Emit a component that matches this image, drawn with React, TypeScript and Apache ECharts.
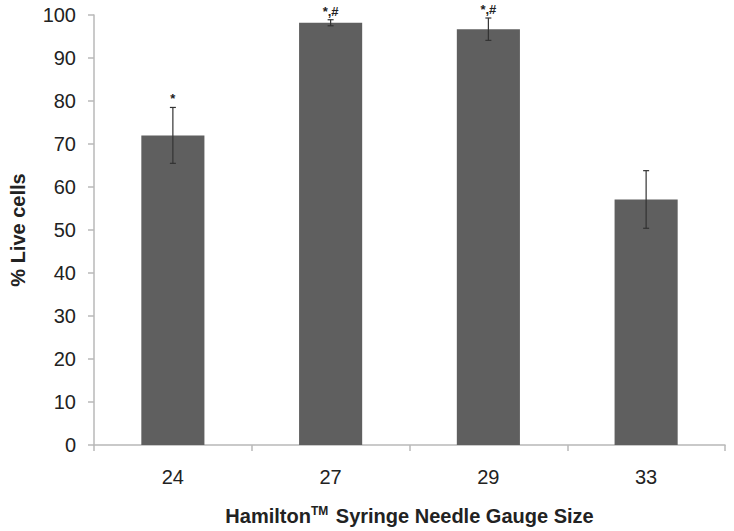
import React, { useEffect, useRef } from "react";
import * as echarts from "echarts";

const categories = ["24", "27", "29", "33"];
const liveCells = [72.0, 98.2, 96.7, 57.1];
const errors = [6.5, 0.7, 2.6, 6.7];
const annotations = ["*", "*,#", "*,#", ""];

export default function App() {
  const ref = useRef<HTMLDivElement>(null);
  useEffect(() => {
    if (!ref.current) return;
    const chart = echarts.init(ref.current, undefined, { renderer: "svg" });
    const font = "Liberation Sans, Arial, sans-serif";
    chart.setOption({
      animation: false,
      backgroundColor: "#ffffff",
      grid: { left: 90, right: 9, top: 15, bottom: 81, containLabel: false },
      xAxis: {
        type: "category",
        data: categories,
        axisLine: { lineStyle: { color: "#b8b8b8", width: 1.5 } },
        axisTick: { show: true, length: 6, lineStyle: { color: "#b8b8b8", width: 1.5 } },
        axisLabel: { color: "#222", fontSize: 20, fontFamily: font, margin: 22 },
        name: "{b|Hamilton}{sup|TM}{b| Syringe Needle Gauge Size}",
        nameLocation: "middle",
        nameGap: 60,
        nameTextStyle: {
          rich: {
            b: { fontSize: 20, fontWeight: "bold", color: "#222", fontFamily: font },
            sup: { fontSize: 12, fontWeight: "bold", color: "#222", fontFamily: font, verticalAlign: "top", padding: [0, 2, 10, 0] },
          },
        },
      },
      yAxis: {
        type: "value",
        min: 0,
        max: 100,
        interval: 10,
        splitLine: { show: false },
        axisLine: { show: true, lineStyle: { color: "#b8b8b8", width: 1.5 } },
        axisTick: { show: true, length: 6, lineStyle: { color: "#b8b8b8", width: 1.5 } },
        axisLabel: { color: "#222", fontSize: 20, fontFamily: font, margin: 18 },
        name: "% Live cells",
        nameLocation: "middle",
        nameGap: 66,
        nameTextStyle: { fontSize: 20, fontWeight: "bold", color: "#222", fontFamily: font },
      },
      series: [
        {
          type: "bar",
          data: liveCells,
          barCategoryGap: "60%",
          itemStyle: { color: "#5f5f5f" },
        },
        {
          type: "custom",
          data: liveCells.map((v, i) => [i, v, errors[i]]),
          z: 10,
          clip: false,
          renderItem: (params: any, api: any) => {
            const i = api.value(0);
            const v = api.value(1);
            const e = api.value(2);
            const top = api.coord([i, v + e]);
            const bot = api.coord([i, v - e]);
            const hw = 3;
            const ann = annotations[params.dataIndex];
            const children: any[] = [
              { type: "line", shape: { x1: top[0], y1: top[1], x2: bot[0], y2: bot[1] }, style: { stroke: "#333", lineWidth: 1.2 } },
              { type: "line", shape: { x1: top[0] - hw, y1: top[1], x2: top[0] + hw, y2: top[1] }, style: { stroke: "#333", lineWidth: 1.2 } },
              { type: "line", shape: { x1: bot[0] - hw, y1: bot[1], x2: bot[0] + hw, y2: bot[1] }, style: { stroke: "#333", lineWidth: 1.2 } },
            ];
            if (ann) {
              children.push({
                type: "text",
                x: top[0],
                y: top[1] - 2,
                style: {
                  text: ann,
                  textAlign: "center",
                  textVerticalAlign: "bottom",
                  fontSize: 13,
                  fontWeight: "bold",
                  fontFamily: font,
                  fill: "#222",
                },
              });
            }
            return { type: "group", children };
          },
        },
      ],
    });
    return () => chart.dispose();
  }, []);
  return <div ref={ref} style={{ width: 734, height: 531, position: "absolute", left: 0, top: 0 }} />;
}
